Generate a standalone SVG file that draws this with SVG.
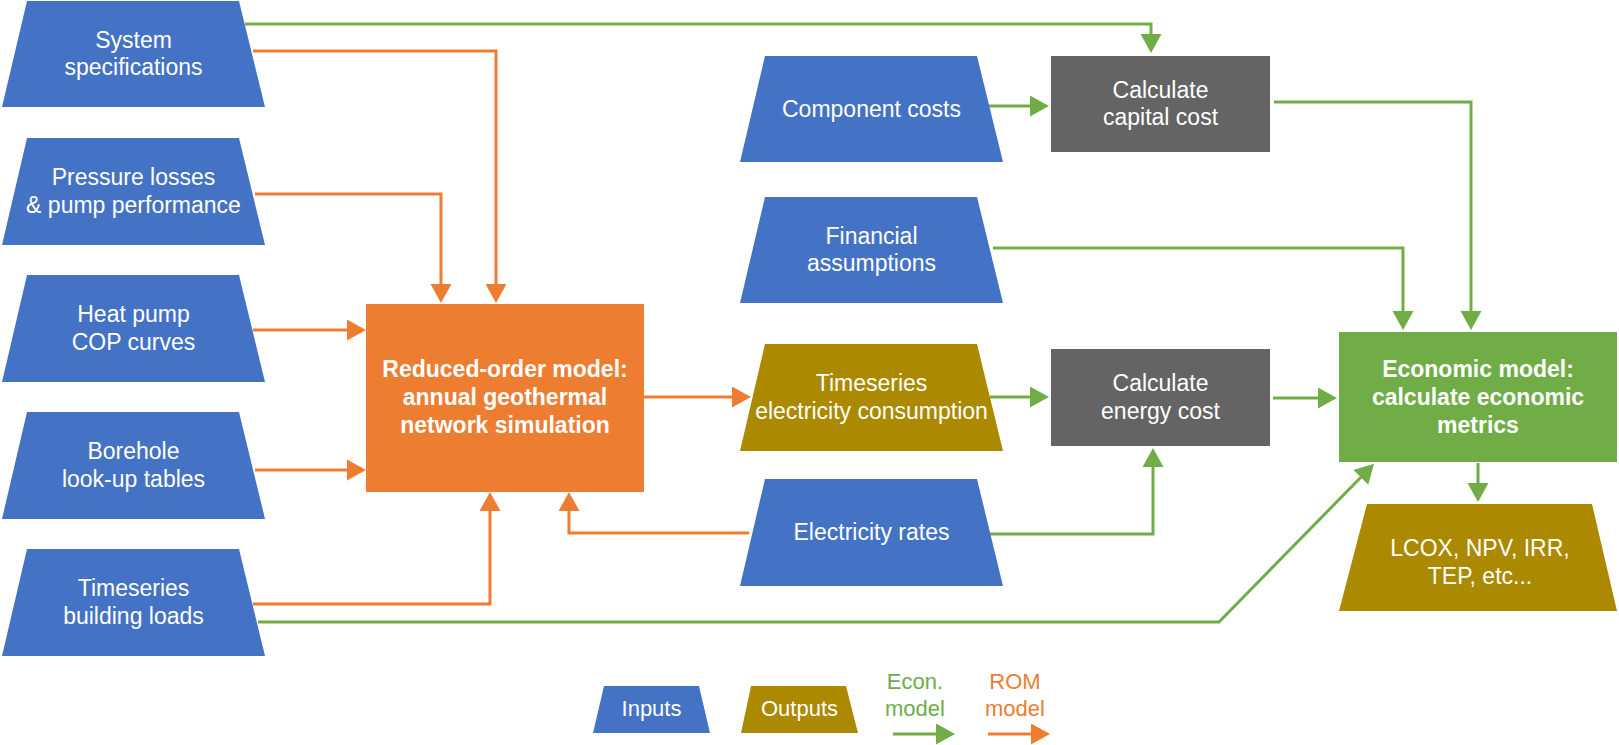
<svg xmlns="http://www.w3.org/2000/svg" width="1619" height="745" viewBox="0 0 1619 745">
  <style>
    .input { fill: #4472C4; }
    .output { fill: #AB8900; }
    .calc { fill: #646464; }
    .rom { fill: #ED7D31; }
    .econ { fill: #70AD47; }
    text { font-family: "Liberation Sans", Arial, sans-serif; font-size: 23px; fill: #ffffff; text-anchor: middle; }
    text.bold { font-weight: bold; }
    .g { fill: none; stroke: #70AD47; stroke-width: 3; marker-end: url(#arrowG); }
    .o { fill: none; stroke: #ED7D31; stroke-width: 3; marker-end: url(#arrowO); }
    text.lg { font-size: 22px; fill: #70AD47; }
    text.lo { font-size: 22px; fill: #ED7D31; }
  </style>
  <defs>
    <marker id="arrowG" markerUnits="userSpaceOnUse" markerWidth="20" markerHeight="22" refX="9" refY="10.5" orient="auto">
      <path d="M0,0 L19,10.5 L0,21 z" fill="#70AD47"/>
    </marker>
    <marker id="arrowO" markerUnits="userSpaceOnUse" markerWidth="20" markerHeight="22" refX="9" refY="10.5" orient="auto">
      <path d="M0,0 L19,10.5 L0,21 z" fill="#ED7D31"/>
    </marker>
  </defs>

  <rect width="1619" height="745" fill="#ffffff"/>

  <!-- connectors -->
  <g id="connectors">
    <!-- economic model flows -->
    <path class="g" d="M245,24 H1151 V43"/>
    <path class="g" d="M986,106 H1039"/>
    <path class="g" d="M993,248 H1403 V320"/>
    <path class="g" d="M1274,102 H1471 V320"/>
    <path class="g" d="M990,397 H1039"/>
    <path class="g" d="M990,534 H1153 V458"/>
    <path class="g" d="M1273,398 H1327"/>
    <path class="g" d="M1478,463 V492"/>
    <path class="g" d="M258,622 H1219 L1367,471"/>
    <!-- reduced-order model flows -->
    <path class="o" d="M253,51 H496 V293"/>
    <path class="o" d="M255,194 H441 V293"/>
    <path class="o" d="M253,330 H356"/>
    <path class="o" d="M255,470 H356"/>
    <path class="o" d="M253,604 H490 V502"/>
    <path class="o" d="M749,533 H569 V502"/>
    <path class="o" d="M644,397 H741"/>
  </g>

  <!-- input nodes, left column -->
  <g id="system-specifications">
    <polygon class="input" points="27,1 239,1 265,107 2,107"/>
    <text x="133.5" y="48">System</text>
    <text x="133.5" y="75">specifications</text>
  </g>
  <g id="pressure-losses">
    <polygon class="input" points="27,138 239,138 265,245 2,245"/>
    <text x="133.5" y="185">Pressure losses</text>
    <text x="133.5" y="212.5">&amp; pump performance</text>
  </g>
  <g id="heat-pump-cop">
    <polygon class="input" points="27,275 239,275 265,382 2,382"/>
    <text x="133.5" y="322">Heat pump</text>
    <text x="133.5" y="349.5">COP curves</text>
  </g>
  <g id="borehole-tables">
    <polygon class="input" points="27,412 239,412 265,519 2,519"/>
    <text x="133.5" y="459">Borehole</text>
    <text x="133.5" y="486.5">look-up tables</text>
  </g>
  <g id="building-loads">
    <polygon class="input" points="27,549 239,549 265,656 2,656"/>
    <text x="133.5" y="596">Timeseries</text>
    <text x="133.5" y="623.5">building loads</text>
  </g>

  <!-- reduced-order model -->
  <g id="rom-model">
    <rect class="rom" x="366" y="304" width="278" height="188"/>
    <text class="bold" x="505" y="377">Reduced-order model:</text>
    <text class="bold" x="505" y="405">annual geothermal</text>
    <text class="bold" x="505" y="433">network simulation</text>
  </g>

  <!-- input nodes, middle column -->
  <g id="component-costs">
    <polygon class="input" points="765,56 977,56 1003,162 740,162"/>
    <text x="871.5" y="117">Component costs</text>
  </g>
  <g id="financial-assumptions">
    <polygon class="input" points="765,197 977,197 1003,303 740,303"/>
    <text x="871.5" y="243.5">Financial</text>
    <text x="871.5" y="271">assumptions</text>
  </g>
  <g id="electricity-consumption">
    <polygon class="output" points="765,344 977,344 1003,451 740,451"/>
    <text x="871.5" y="391">Timeseries</text>
    <text x="871.5" y="418.5">electricity consumption</text>
  </g>
  <g id="electricity-rates">
    <polygon class="input" points="765,479 977,479 1003,586 740,586"/>
    <text x="871.5" y="540">Electricity rates</text>
  </g>

  <!-- calculation steps -->
  <g id="capital-cost">
    <rect class="calc" x="1051" y="56" width="219" height="96"/>
    <text x="1160.5" y="97.5">Calculate</text>
    <text x="1160.5" y="125">capital cost</text>
  </g>
  <g id="energy-cost">
    <rect class="calc" x="1051" y="349" width="219" height="97"/>
    <text x="1160.5" y="391">Calculate</text>
    <text x="1160.5" y="418.5">energy cost</text>
  </g>

  <!-- economic model and results -->
  <g id="economic-model">
    <rect class="econ" x="1339" y="332" width="278" height="130"/>
    <text class="bold" x="1478" y="377">Economic model:</text>
    <text class="bold" x="1478" y="405">calculate economic</text>
    <text class="bold" x="1478" y="433">metrics</text>
  </g>
  <g id="economic-metrics">
    <polygon class="output" points="1367,504 1592,504 1617,611 1339,611"/>
    <text x="1480" y="556">LCOX, NPV, IRR,</text>
    <text x="1480" y="584">TEP, etc...</text>
  </g>

  <!-- legend -->
  <g id="legend">
    <polygon class="input" points="604,686 699,686 710,733 593,733"/>
    <text x="651.5" y="716" style="font-size:22px">Inputs</text>
    <polygon class="output" points="751,686 846,686 858,733 741,733"/>
    <text x="799.5" y="716" style="font-size:22px">Outputs</text>
    <text class="lg" x="915" y="689">Econ.</text>
    <text class="lg" x="915" y="716">model</text>
    <path class="g" d="M893,734 H945"/>
    <text class="lo" x="1015" y="689">ROM</text>
    <text class="lo" x="1015" y="716">model</text>
    <path class="o" d="M988,734 H1040"/>
  </g>
</svg>
